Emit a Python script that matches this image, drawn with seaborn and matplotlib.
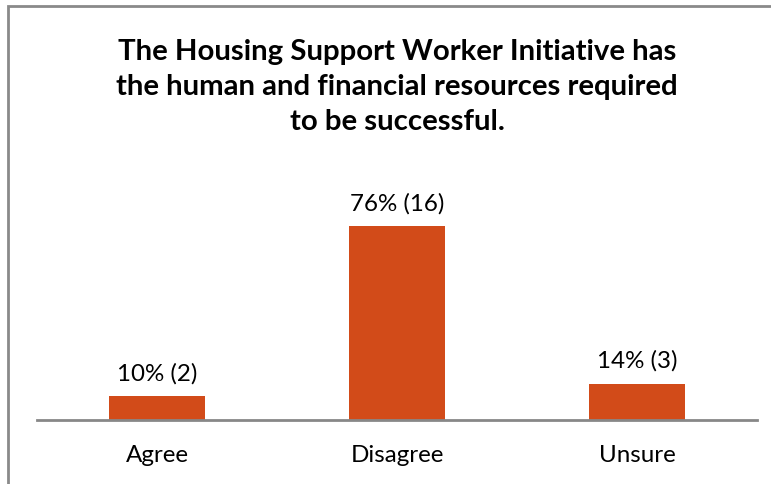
import matplotlib
matplotlib.use("Agg")
import matplotlib.pyplot as plt
import matplotlib.patches as mpatches
import seaborn as sns
import pandas as pd

categories = ["Agree", "Disagree", "Unsure"]
counts = [2, 16, 3]
percents = [9.52, 76.19, 14.29]
title = ("The Housing Support Worker Initiative has\n"
         "the human and financial resources required\n"
         "to be successful.")

bar_color = "#D24B19"

sns.set_theme(style="white")
plt.rcParams["font.family"] = ["Lato", "DejaVu Sans"]

W, H = 771, 485
fig = plt.figure(figsize=(W / 100, H / 100), dpi=100)

# axes placed in pixel terms: x from 37 to 757, baseline at y=421, top at y=175
left, right, bottom, top = 37, 757, 421, 175
ax = fig.add_axes([left / W, 1 - bottom / H, (right - left) / W, (bottom - top) / H])

df = pd.DataFrame({"cat": categories, "pct": percents, "n": counts})
sns.barplot(data=df, x="cat", y="pct", color=bar_color, width=0.4,
            saturation=1, ax=ax, edgecolor="none")

ax.set_xlim(-0.5, 2.5)
ax.set_ylim(0, (bottom - top) / 2.55)
ax.set_xlabel("")
ax.set_ylabel("")
ax.set_yticks([])
for s in ["top", "left", "right"]:
    ax.spines[s].set_visible(False)
ax.spines["bottom"].set_color("#878787")
ax.spines["bottom"].set_linewidth(2)
ax.tick_params(axis="x", length=0, pad=17.5, labelsize=17.4, labelcolor="black")

for i, (p, n) in enumerate(zip(percents, counts)):
    ax.annotate(f"{p:.0f}% ({n})", (i, p), xytext=(0, 9),
                textcoords="offset points", ha="center", va="bottom",
                fontsize=17.4, color="black")

fig.text(397 / W, 1 - 87 / H, title, ha="center", va="center",
         fontsize=21.2, fontweight="bold", linespacing=1.42, color="black")

# outer frame
fig.patches.append(mpatches.Rectangle((8 / W, -0.1), 1.2, 1.1 - 7 / H,
                                      transform=fig.transFigure, fill=False,
                                      edgecolor="#8a8a8a", linewidth=2))

fig.savefig("out.png", dpi=100, facecolor="white")
